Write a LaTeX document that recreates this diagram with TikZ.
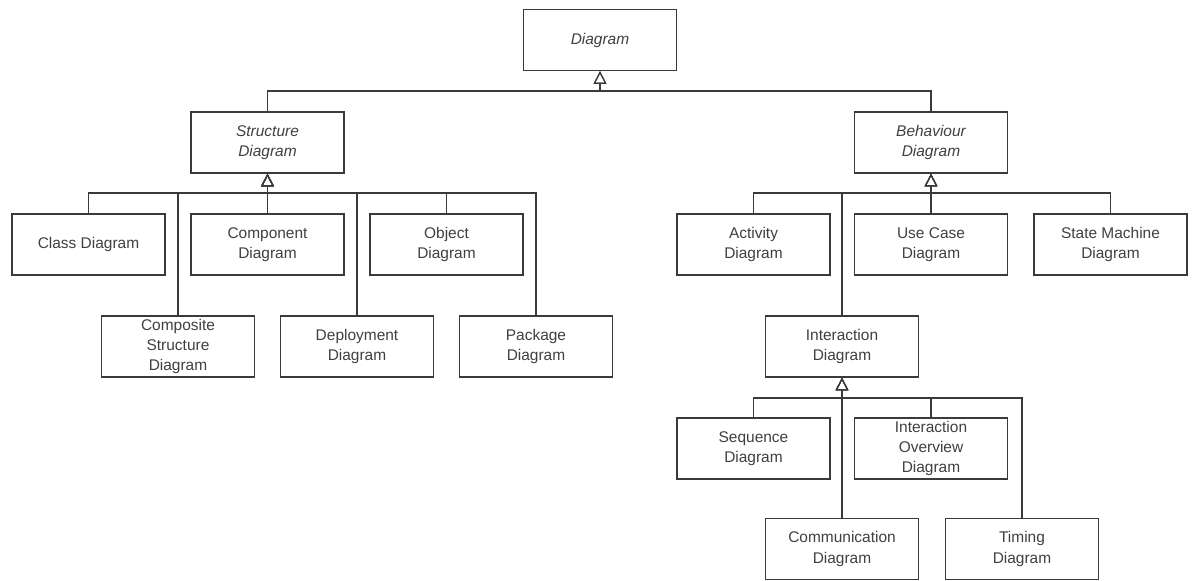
\documentclass[tikz,border=0pt]{standalone}
\usepackage{fontspec}
\setmainfont{Liberation Sans}
\usetikzlibrary{arrows.meta}
\definecolor{umlGris}{HTML}{3A3A3A}
\definecolor{umlTexto}{HTML}{404040}

\begin{document}
\begin{tikzpicture}[x=0.025cm,y=-0.025cm,
    caja/.style={draw=umlGris,line width=0.9pt,fill=white,minimum width=3.825cm,
      minimum height=1.525cm,inner sep=0pt,align=center,text=umlTexto,
      font=\fontsize{11}{14.5}\selectfont},
    abstracta/.style={caja,font=\fontsize{11}{14.5}\selectfont\itshape},
    gen/.style={draw=umlGris,line width=0.8pt,-{Triangle[open,length=9pt,width=9pt]}}]
  \useasboundingbox (0,0) rectangle (1196,580);
  % tipos abstractos
  \node[abstracta] (diag) at (600,40) {Diagram};
  \node[abstracta] (struct) at (267.5,142.5) {Structure\\Diagram};
  \node[abstracta] (behav) at (931,142.5) {Behaviour\\Diagram};
  \node[caja] (inter) at (842,346.5) {Interaction\\Diagram};
  % diagramas concretos
  \foreach \n/\x/\y/\t in {cls/88.5/244.5/{Class Diagram},comp/267.5/244.5/{Component\\Diagram},
      obj/446.5/244.5/{Object\\Diagram},csd/178/346.5/{Composite\\Structure\\Diagram},
      dep/357/346.5/{Deployment\\Diagram},pkg/536/346.5/{Package\\Diagram},
      act/753.5/244.5/{Activity\\Diagram},uc/931/244.5/{Use Case\\Diagram},
      sm/1110.5/244.5/{State Machine\\Diagram},seq/753.5/448.5/{Sequence\\Diagram},
      io/931/448.5/{Interaction\\Overview\\Diagram},comm/842/549/{Communication\\Diagram},
      tim/1022/549/{Timing\\Diagram}}
    {\node[caja] (\n) at (\x,\y) {\t};}
  % puntos de union de cada bus
  \coordinate (busD) at (600,91);
  \coordinate (busS) at (267.5,193);
  \coordinate (busB) at (931,193);
  \coordinate (busI) at (842,398);
  % generalizaciones
  \foreach \h in {struct,behav}
    {\draw[gen] (\h.north) |- (busD) -- (diag.south);}
  \foreach \h in {cls,comp,obj,csd,dep,pkg}
    {\draw[gen] (\h.north) |- (busS) -- (struct.south);}
  \foreach \h in {act,uc,sm,inter}
    {\draw[gen] (\h.north) |- (busB) -- (behav.south);}
  \foreach \h in {seq,io,comm,tim}
    {\draw[gen] (\h.north) |- (busI) -- (inter.south);}
\end{tikzpicture}
\end{document}
